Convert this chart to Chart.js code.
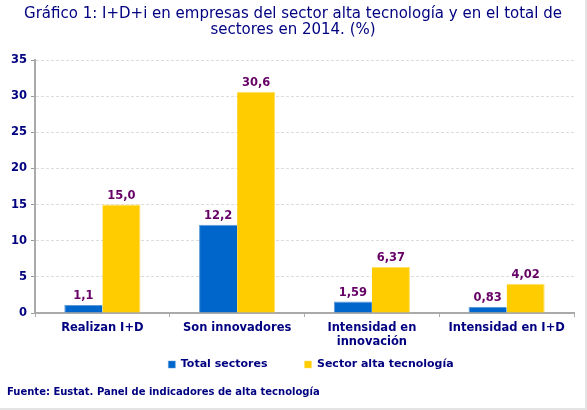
<!DOCTYPE html>
<html>
<head>
<meta charset="utf-8">
<script src="https://cdn.jsdelivr.net/npm/chart.js@4"></script>
<style>
	body { margin:0; background:#fff; }
	#wrap { position:relative; width:587px; height:410px; box-sizing:border-box;
		border-right:2px solid #e4e4e4; border-bottom:2px solid #e4e4e4; }
	canvas { display:block; }
</style>
</head>
<body>
<div id="wrap"><canvas id="c" width="585" height="408"></canvas></div>
<script>
// datos
const categories=[ "Realizan I+D", "Son innovadores", ["Intensidad en","innovación"], "Intensidad en I+D" ];
const totalSectores=[ 1.1, 12.2, 1.59, 0.83 ];
const altaTecnologia=[ 15.0, 30.6, 6.37, 4.02 ];
const decimals=[ 1, 1, 2, 2 ];
const yTicks=[ 0, 5, 10, 15, 20, 25, 30, 35 ];
const titleLines=[ "Gráfico 1: I+D+i en empresas del sector alta tecnología y en el total de", "sectores en 2014. (%)" ];
const source="Fuente: Eustat. Panel de indicadores de alta tecnología";

const NAVY="#000080";
const FONT="'DejaVu Sans', Verdana, sans-serif";

// etiquetas de valor encima de las barras
const valueLabels={
	id:"valueLabels",
	afterDatasetsDraw(chart) {
		let ctx=chart.ctx;
		ctx.save();
		ctx.font="bold 11.5px "+FONT;
		ctx.fillStyle="#660066";
		ctx.textAlign="center";
		ctx.textBaseline="bottom";
		chart.data.datasets.forEach((ds,i)=>{
			chart.getDatasetMeta(i).data.forEach((bar,j)=>{
				let txt=ds.data[j].toFixed(decimals[j]).replace(".",",");
				ctx.fillText(txt,bar.x,bar.y-3);
			});
		});
		ctx.restore();
	}
};

// titulo y fuente
const texts={
	id:"texts",
	afterDraw(chart) {
		let ctx=chart.ctx;
		ctx.save();
		ctx.fillStyle=NAVY;
		ctx.textBaseline="middle";
		ctx.textAlign="center";
		ctx.font="15px "+FONT;
		titleLines.forEach((t,i)=>ctx.fillText(t,293,14+i*16.5));
		ctx.textAlign="left";
		ctx.font="bold 10px "+FONT;
		ctx.fillText(source,7,392);
		ctx.restore();
	}
};

// leyenda: un poco a la derecha y mas arriba que donde la deja el layout
const shiftLegend={
	id:"shiftLegend",
	afterLayout(chart) {
		let lg=chart.legend;
		lg.left+=24; lg.right+=24;
		lg.top-=27; lg.bottom-=27;
	}
};

new Chart(document.getElementById("c"),{
	type:"bar",
	data:{
		labels:categories,
		datasets:[
			{ label:"Total sectores", data:totalSectores, backgroundColor:"#0066cc", borderColor:"#5c9ad6", borderWidth:{top:1,left:1,right:0,bottom:0} },
			{ label:"Sector alta tecnología", data:altaTecnologia, backgroundColor:"#ffcc00", borderColor:"#ffe066", borderWidth:{top:1,left:0,right:1,bottom:0} }
		]
	},
	options:{
		responsive:false,
		animation:false,
		devicePixelRatio:1,
		layout:{ padding:{ top:60, right:11, left:0, bottom:1 } },
		datasets:{ bar:{ categoryPercentage:0.565, barPercentage:1 } },
		plugins:{
			legend:{
				position:"bottom",
				labels:{ boxWidth:7, boxHeight:7, padding:37, color:NAVY, font:{ family:FONT, size:11, weight:"bold" } }
			},
			tooltip:{ enabled:false }
		},
		scales:{
			x:{
				grid:{ drawOnChartArea:false, drawTicks:true, tickLength:4, color:"#aaa" },
				border:{ color:"#aaa", width:2 },
				ticks:{ color:NAVY, padding:4, font:{ family:FONT, size:11.5, weight:"bold", lineHeight:1.22 }, maxRotation:0 },
				afterFit:(s)=>{ s.height=36; }
			},
			y:{
				min:0, max:35,
				afterBuildTicks:(s)=>{ s.ticks=yTicks.map((v)=>({value:v})); },
				grid:{ color:"#ddd", tickColor:"#999", tickLength:4 },
				border:{ color:"#aaa", width:2, dash:[3,2] },
				ticks:{ color:NAVY, padding:4, font:{ family:FONT, size:11.5, weight:"bold" } },
				afterFit:(s)=>{ s.width=35; }
			}
		}
	},
	plugins:[valueLabels,texts,shiftLegend]
});
</script>
</body>
</html>
